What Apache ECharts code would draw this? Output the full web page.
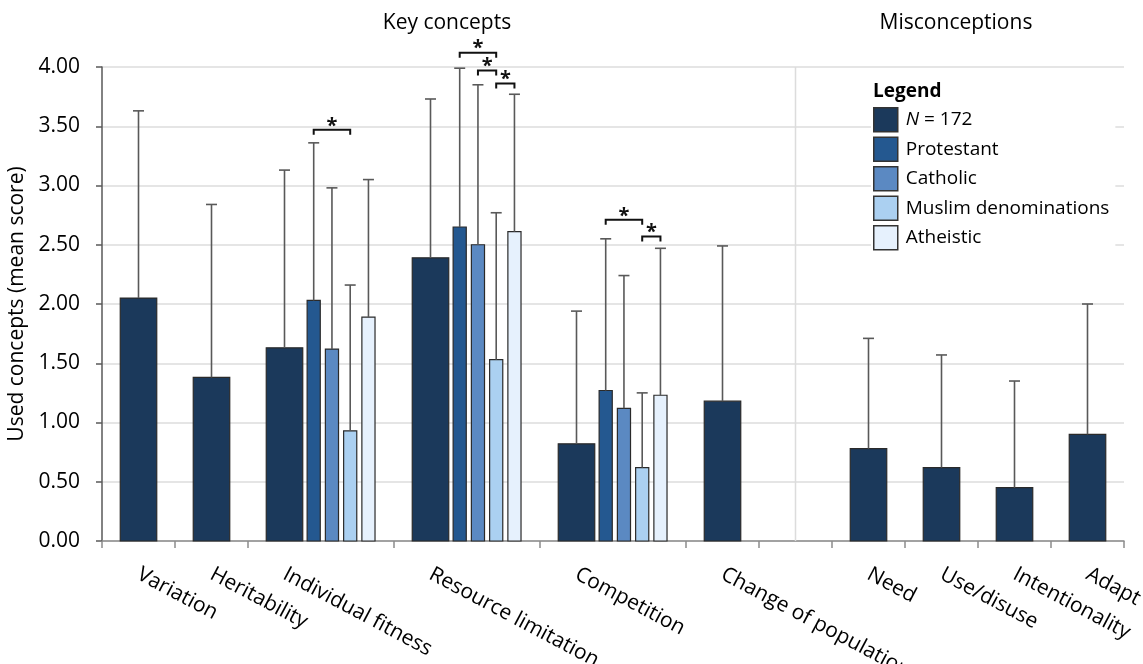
<!DOCTYPE html>
<html>
<head>
<meta charset="utf-8">
<script src="https://cdn.jsdelivr.net/npm/echarts@6/dist/echarts.min.js"></script>
<style>
html,body{margin:0;padding:0;background:#fff;}
#chart{width:1143px;height:664px;}
</style>
</head>
<body>
<div id="chart"></div>
<script>
// ---------------- DATA ----------------
const categories = ['Variation', 'Heritability', 'Individual fitness', 'Resource limitation', 'Competition',
  'Change of population', 'Need', 'Use/disuse', 'Intentionality', 'Adapt'];
// whole sample (N = 172): mean and upper end of error bar (mean + SD)
const nMean  = [2.05, 1.38, 1.63, 2.39, 0.82, 1.18, 0.78, 0.62, 0.45, 0.90];
const nUpper = [3.63, 2.84, 3.13, 3.73, 1.94, 2.49, 1.71, 1.57, 1.35, 2.00];
// denomination subgroups (only for three concepts)
const subCategories = ['Individual fitness', 'Resource limitation', 'Competition'];
const groupNames = ['Protestant', 'Catholic', 'Muslim denominations', 'Atheistic'];
const protestantMean  = [2.03, 2.65, 1.27];
const protestantUpper = [3.36, 3.99, 2.55];
const catholicMean    = [1.62, 2.50, 1.12];
const catholicUpper   = [2.98, 3.85, 2.24];
const muslimMean      = [0.93, 1.53, 0.62];
const muslimUpper     = [2.16, 2.77, 1.25];
const atheisticMean   = [1.89, 2.61, 1.23];
const atheisticUpper  = [3.05, 3.77, 2.47];
// significant differences: [category, group A, group B, bracket level]
const sigCategory = ['Individual fitness', 'Resource limitation', 'Resource limitation', 'Resource limitation', 'Competition', 'Competition'];
const sigGroupA   = ['Protestant', 'Protestant', 'Catholic', 'Muslim denominations', 'Protestant', 'Muslim denominations'];
const sigGroupB   = ['Muslim denominations', 'Muslim denominations', 'Muslim denominations', 'Atheistic', 'Muslim denominations', 'Atheistic'];
const sigLevel    = [3.47, 4.12, 3.97, 3.86, 2.71, 2.57];
const sectionTitles = ['Key concepts', 'Misconceptions'];
const nLabel = 'N = 172';

// ---------------- LAYOUT (slot units on x axis) ----------------
const spans = [1, 1, 2, 2, 2, 1, 1, 1, 1, 1];
const gapAfter = 5; // empty slot between key concepts and misconceptions
const starts = [];
let s = 0;
spans.forEach((sp, i) => { starts.push(s); s += sp; if (i === gapAfter) s += 1; });
const xMax = s;
const nPos = starts.map(v => v + 0.5);
const tickVals = starts.concat([starts[gapAfter] + 1, xMax]).sort((a, b) => a - b);
const dividerX = starts[gapAfter + 1] - 0.5;
function subPos(cat, gi) { return starts[categories.indexOf(cat)] + 0.9 + 0.25 * gi; }

const FONT = '"Open Sans", "Noto Sans", sans-serif';
const colors = {
  'N = 172': '#1b395b',
  'Protestant': '#245890',
  'Catholic': '#5b89c2',
  'Muslim denominations': '#abd0f1',
  'Atheistic': '#e6f1fd'
};

function barRender(widthUnits, color) {
  return function (params, api) {
    const x = api.value(0), m = api.value(1), u = api.value(2);
    const a = api.coord([x - widthUnits / 2, m]);
    const b = api.coord([x + widthUnits / 2, 0]);
    const base = api.coord([x, m]);
    const top = api.coord([x, u]);
    return {
      type: 'group',
      children: [
        { type: 'rect', shape: { x: a[0], y: a[1], width: b[0] - a[0], height: b[1] - a[1] },
          style: { fill: color, stroke: '#2a2a2a', lineWidth: 1.2 } },
        { type: 'line', shape: { x1: base[0], y1: base[1], x2: top[0], y2: top[1] },
          style: { stroke: '#595959', lineWidth: 1.6 } },
        { type: 'line', shape: { x1: top[0] - 5.5, y1: top[1], x2: top[0] + 5.5, y2: top[1] },
          style: { stroke: '#595959', lineWidth: 1.6 } }
      ]
    };
  };
}

const subMeans = [protestantMean, catholicMean, muslimMean, atheisticMean];
const subUppers = [protestantUpper, catholicUpper, muslimUpper, atheisticUpper];

const series = [];
// divider
series.push({
  type: 'custom', name: 'divider', silent: true, z: 1,
  data: [[dividerX]],
  renderItem: function (params, api) {
    const p0 = api.coord([api.value(0), 0]);
    const p1 = api.coord([api.value(0), 4]);
    return { type: 'line', shape: { x1: p0[0], y1: p0[1], x2: p1[0], y2: p1[1] }, style: { stroke: '#dcdcdc', lineWidth: 1.5 } };
  }
});
series.push({
  type: 'custom', name: nLabel, z: 3,
  itemStyle: { color: colors[nLabel] },
  data: categories.map((c, i) => [nPos[i], nMean[i], nUpper[i]]),
  renderItem: barRender(0.5, colors[nLabel])
});
groupNames.forEach((g, gi) => {
  series.push({
    type: 'custom', name: g, z: 3,
    itemStyle: { color: colors[g] },
    data: subCategories.map((c, ci) => [subPos(c, gi), subMeans[gi][ci], subUppers[gi][ci]]),
    renderItem: barRender(0.18, colors[g])
  });
});
// significance brackets
series.push({
  type: 'custom', name: 'sig', z: 4, silent: true, clip: false,
  data: sigCategory.map((c, i) => [subPos(c, groupNames.indexOf(sigGroupA[i])), subPos(c, groupNames.indexOf(sigGroupB[i])), sigLevel[i]]),
  renderItem: function (params, api) {
    const p1 = api.coord([api.value(0), api.value(2)]);
    const p2 = api.coord([api.value(1), api.value(2)]);
    return {
      type: 'group',
      children: [
        { type: 'polyline', shape: { points: [[p1[0], p1[1] + 5], [p1[0], p1[1]], [p2[0], p2[1]], [p2[0], p2[1] + 5]] },
          style: { stroke: '#111', lineWidth: 2, fill: null } },
        { type: 'text', x: (p1[0] + p2[0]) / 2, y: p1[1] + 6,
          style: { text: '*', font: 'bold 20px ' + FONT, fill: '#111', textAlign: 'center', textVerticalAlign: 'bottom' } }
      ]
    };
  }
});

const chart = echarts.init(document.getElementById('chart'));
chart.setOption({
  animation: false,
  backgroundColor: '#fff',
  grid: { left: 102, right: 19, top: 67, bottom: 123, outerBoundsMode: 'none', containLabel: false },
  graphic: [
    { type: 'text', x: 447, y: 23, style: { text: sectionTitles[0], font: '21px ' + FONT, fill: '#000', textAlign: 'center', textVerticalAlign: 'middle' } },
    { type: 'text', x: 956, y: 23, style: { text: sectionTitles[1], font: '21px ' + FONT, fill: '#000', textAlign: 'center', textVerticalAlign: 'middle' } },
    { type: 'text', x: 873, y: 92, z: 100, style: { text: 'Legend', font: 'bold 19px ' + FONT, fill: '#000', textAlign: 'left', textVerticalAlign: 'middle' } }
  ],
  legend: {
    orient: 'vertical', left: 871, top: 104,
    itemWidth: 24, itemHeight: 24, itemGap: 4,
    icon: 'rect',
    backgroundColor: '#fff',
    padding: [3, 6, 4, 2],
    textStyle: { fontSize: 19, fontFamily: FONT, color: '#000', padding: [0, 0, 0, 3],
      rich: { i: { fontStyle: 'italic', fontSize: 19, fontFamily: FONT, color: '#000' } } },
    formatter: function (name) { return name === nLabel ? '{i|N} = 172' : name; },
    data: [nLabel].concat(groupNames).map(n => ({ name: n, itemStyle: { color: colors[n], borderColor: '#333', borderWidth: 1.5 } }))
  },
  xAxis: {
    type: 'value', min: 0, max: xMax,
    axisLine: { show: true, lineStyle: { color: '#8c8c8c', width: 1.5 } },
    axisTick: { show: true, customValues: tickVals, length: 7, lineStyle: { color: '#8c8c8c', width: 1.5 } },
    axisLabel: {
      customValues: nPos, rotate: -28, margin: 32,
      fontSize: 21, fontFamily: FONT, color: '#000',
      formatter: function (v) {
        const i = nPos.findIndex(p => Math.abs(p - v) < 1e-6);
        return i >= 0 ? categories[i] : '';
      }
    },
    splitLine: { show: false }
  },
  yAxis: {
    type: 'value', min: 0, max: 4, interval: 0.5,
    name: 'Used concepts (mean score)', nameLocation: 'middle', nameGap: 65,
    nameTextStyle: { fontSize: 21, fontFamily: FONT, color: '#000' },
    axisLine: { show: true, lineStyle: { color: '#595959', width: 1.5 } },
    axisTick: { show: true, length: 6, lineStyle: { color: '#595959', width: 1.5 } },
    axisLabel: { fontSize: 21, fontFamily: FONT, color: '#000', margin: 22, formatter: v => v.toFixed(2) },
    splitLine: { show: true, lineStyle: { color: '#dcdcdc', width: 1.5 } }
  },
  series: series
});
</script>
</body>
</html>
